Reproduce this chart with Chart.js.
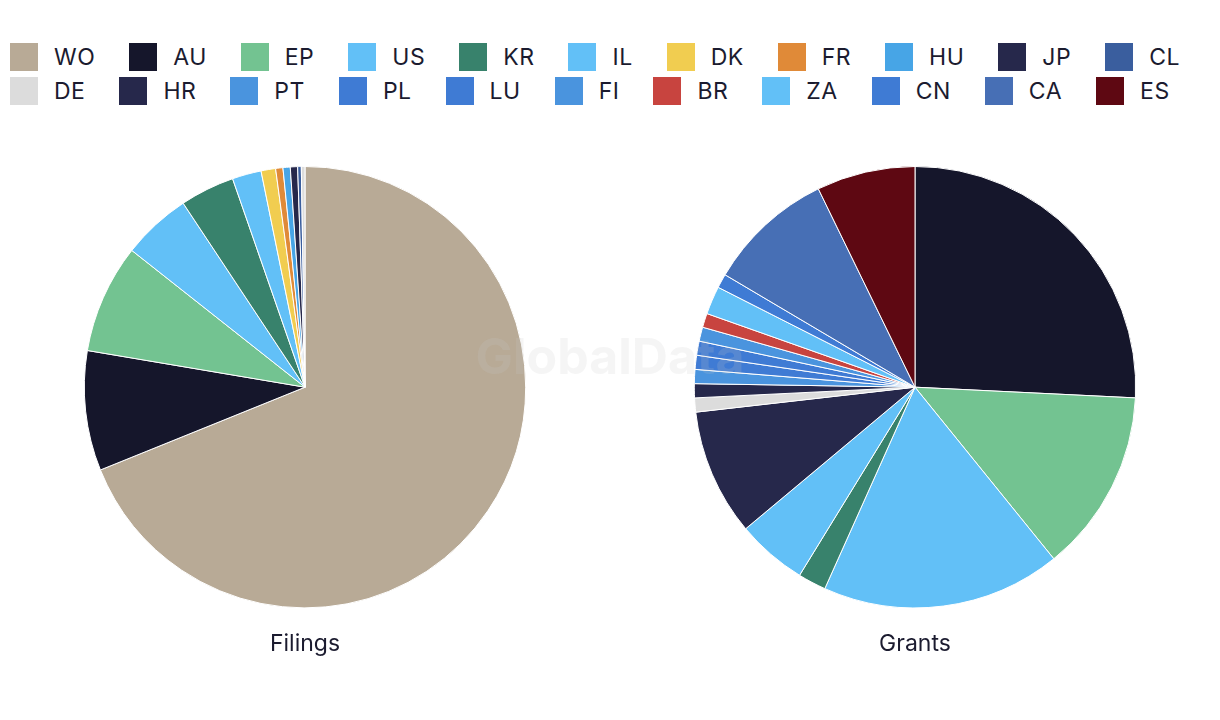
<!DOCTYPE html>
<html>
<head>
<meta charset="utf-8">
<script src="https://cdn.jsdelivr.net/npm/chart.js@4.4.0/dist/chart.umd.min.js"></script>
<style>
body { margin: 0; background: #fff; font-family: Inter, "Noto Sans", sans-serif; }
#pagina { position: relative; width: 1220px; height: 720px; overflow: hidden; }
#legenda { position: absolute; left: 10px; top: 43px; }
.riga { display: flex; height: 28px; margin-bottom: 6px; }
.voce { display: flex; align-items: center; margin-right: 34px; font-size: 23px; letter-spacing: 0.5px; color: #1b1b2f; white-space: nowrap; }
.box { width: 28px; height: 28px; margin-right: 16px; }
.torta { position: absolute; top: 156px; }
#marchio { position: absolute; left: 0; width: 1220px; top: 326px; text-align: center; font-size: 50px; font-weight: bold;
  color: rgba(200, 200, 200, 0.18); pointer-events: none; z-index: 5; }
</style>
</head>
<body>
<div id="pagina">
  <div id="legenda"></div>
  <canvas id="filings" class="torta" width="610" height="512" style="left:0px"></canvas>
  <canvas id="grants" class="torta" width="610" height="512" style="left:610px"></canvas>
  <div id="marchio">GlobalData</div>
</div>
<script>
// paesi / uffici brevetti
var categorie = ["WO", "AU", "EP", "US", "KR", "IL", "DK", "FR", "HU", "JP", "CL",
                 "DE", "HR", "PT", "PL", "LU", "FI", "BR", "ZA", "CN", "CA", "ES"];
var filings = [259, 33, 30, 19, 15, 8, 4, 2, 2, 2, 1,
               1, 0, 0, 0, 0, 0, 0, 0, 0, 0, 0];
var grants = [0, 25, 13, 17, 2, 5, 0, 0, 0, 9, 0,
              1, 1, 1, 1, 1, 1, 1, 2, 1, 9, 7];
var colori = ["#B8AA96", "#15162B", "#73C391", "#62C0F7", "#38826C", "#62C0F7", "#F1CD50", "#E08A38", "#47A5E6", "#26284B", "#3A5E9E",
              "#DCDCDC", "#26284B", "#4A94DE", "#3F7BD4", "#3F7BD4", "#4A94DE", "#C8443F", "#62C0F7", "#3F7BD4", "#476FB5", "#5E0812"];

// legenda html su due righe
var legenda = document.getElementById("legenda");
for (let r = 0; r < 2; r++) {
    var riga = document.createElement("div");
    riga.className = "riga";
    for (let i = r * 11; i < (r + 1) * 11; i++) {
        var voce = document.createElement("div");
        voce.className = "voce";
        var box = document.createElement("div");
        box.className = "box";
        box.style.background = colori[i];
        voce.appendChild(box);
        voce.appendChild(document.createTextNode(categorie[i]));
        riga.appendChild(voce);
    }
    legenda.appendChild(riga);
}

function creaTorta(id, valori, titolo) {
    var ctx = document.getElementById(id).getContext("2d");
    return new Chart(ctx, {
        type: "pie",
        data: {
            labels: categorie,
            datasets: [{
                data: valori,
                backgroundColor: colori,
                borderColor: "#fff",
                borderWidth: 1,
                hoverOffset: 0
            }]
        },
        options: {
            responsive: false,
            animation: false,
            layout: { padding: { top: 10 } },
            plugins: {
                legend: { display: false },
                tooltip: { enabled: false },
                title: {
                    display: true,
                    text: titolo,
                    position: "bottom",
                    color: "#1b1b2f",
                    font: { family: "Inter", size: 23, weight: "normal" },
                    padding: { top: 22, bottom: 10 }
                }
            }
        }
    });
}

creaTorta("filings", filings, "Filings");
creaTorta("grants", grants, "Grants");
</script>
</body>
</html>
